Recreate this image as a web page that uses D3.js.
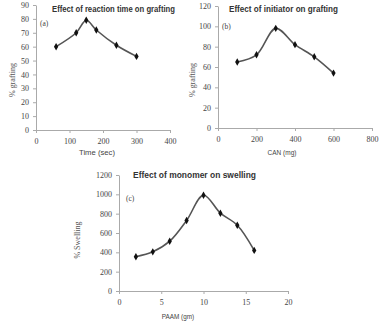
<!DOCTYPE html>
<html><head><meta charset="utf-8">
<script src="https://cdn.jsdelivr.net/npm/d3@7"></script>
<style>
body{margin:0;background:#fff;}
svg{display:block;}
.tick text{font-family:"Liberation Serif","DejaVu Serif",serif;fill:#444;}
</style></head>
<body><svg id="c" width="380" height="321"></svg>
<script>
// Data
const timeX = [60,120,150,180,240,300];
const timeY = [60,70,79,72,61,53];
const canX = [100,200,300,400,500,600];
const canY = [65,72,98,82,70,54];
const paamX = [2,4,6,8,10,12,14,16];
const paamY = [355,405,515,730,990,805,680,420];

const xTicksA = [0,100,200,300,400];
const yTicksA = [0,10,20,30,40,50,60,70,80,90];
const xTicksB = [0,200,400,600,800];
const yTicksB = [0,20,40,60,80,100,120];
const xTicksC = [0,5,10,15,20];
const yTicksC = [0,200,400,600,800,1000,1200];

const titles = ["Effect of reaction time on grafting","Effect of initiator on grafting","Effect of monomer on swelling"];
const xLabels = ["Time (sec)","CAN (mg)","PAAM (gm)"];
const yLabels = ["% grafting","% grafting","% Swelling"];
const tags = ["(a)","(b)","(c)"];

const svg = d3.select("#c");

const panels = [
  {xs:timeX, ys:timeY, xd:[0,400], yd:[0,90], xt:xTicksA, yt:yTicksA,
   x0:36, x1:170, y0:130, y1:5, title:titles[0], tx:52, tw:123, ty:12,
   xl:xLabels[0], xlx:97, xly:155, yl:yLabels[0], ylx:15, yly:80, tag:tags[0], tagx:40, tagy:26},
  {xs:canX, ys:canY, xd:[0,800], yd:[0,120], xt:xTicksB, yt:yTicksB,
   x0:218, x1:372, y0:128, y1:6, title:titles[1], tx:229, tw:109, ty:12,
   xl:xLabels[1], xlx:282, xly:155, yl:yLabels[1], ylx:195, yly:80, tag:tags[1], tagx:222, tagy:29},
  {xs:paamX, ys:paamY, xd:[0,20], yd:[0,1200], xt:xTicksC, yt:yTicksC,
   x0:119, x1:288, y0:291, y1:175, title:titles[2], tx:133, tw:123, ty:178,
   xl:xLabels[2], xlx:178, xly:319, yl:yLabels[2], ylx:80, yly:240, tag:tags[2], tagx:126, tagy:201}
];

panels.forEach(p => {
  const x = d3.scaleLinear().domain(p.xd).range([p.x0,p.x1]);
  const y = d3.scaleLinear().domain(p.yd).range([p.y0,p.y1]);
  const g = svg.append("g");

  const xa = g.append("g").attr("transform",`translate(0,${p.y0})`)
    .call(d3.axisBottom(x).tickValues(p.xt).tickFormat(d3.format("d")).tickSize(3).tickPadding(5).tickSizeOuter(0));
  const ya = g.append("g").attr("transform",`translate(${p.x0},0)`)
    .call(d3.axisLeft(y).tickValues(p.yt).tickFormat(d3.format("d")).tickSize(3).tickPadding(4).tickSizeOuter(0));
  [xa,ya].forEach(a=>{
    a.selectAll("path,line").attr("stroke","#aaa");
    a.selectAll("text").attr("font-size",8);
  });

  const line = d3.line().x((d,i)=>x(p.xs[i])).y(d=>y(d)).curve(d3.curveCatmullRom.alpha(0.5));
  g.append("path").datum(p.ys).attr("d",line).attr("fill","none")
    .attr("stroke","#555").attr("stroke-width",1.6);
  g.selectAll(".m").data(p.ys).join("path")
    .attr("transform",(d,i)=>`translate(${x(p.xs[i])},${y(d)})`)
    .attr("d",d3.symbol(d3.symbolDiamond,16)).attr("fill","#111");

  g.append("text").attr("x",p.tx).attr("y",p.ty).text(p.title)
    .attr("font-family","Liberation Sans, Arial, sans-serif").attr("font-weight","bold")
    .attr("font-size",9).attr("fill","#333")
    .attr("textLength",p.tw).attr("lengthAdjust","spacingAndGlyphs");
  g.append("text").attr("x",p.xlx).attr("y",p.xly).attr("text-anchor","middle").text(p.xl)
    .attr("font-family","Liberation Sans, Arial, sans-serif").attr("font-size",8).attr("fill","#444")
    .attr("textLength",p.xl.length*3.6).attr("lengthAdjust","spacingAndGlyphs");
  g.append("text").attr("transform",`translate(${p.ylx},${p.yly}) rotate(-90)`)
    .attr("text-anchor","middle").text(p.yl)
    .attr("font-family","Liberation Serif, serif").attr("font-size",8).attr("fill","#555");
  g.append("text").attr("x",p.tagx).attr("y",p.tagy).text(p.tag)
    .attr("font-family","Liberation Serif, serif").attr("font-size",7.5).attr("fill","#444");
});
</script></body></html>
